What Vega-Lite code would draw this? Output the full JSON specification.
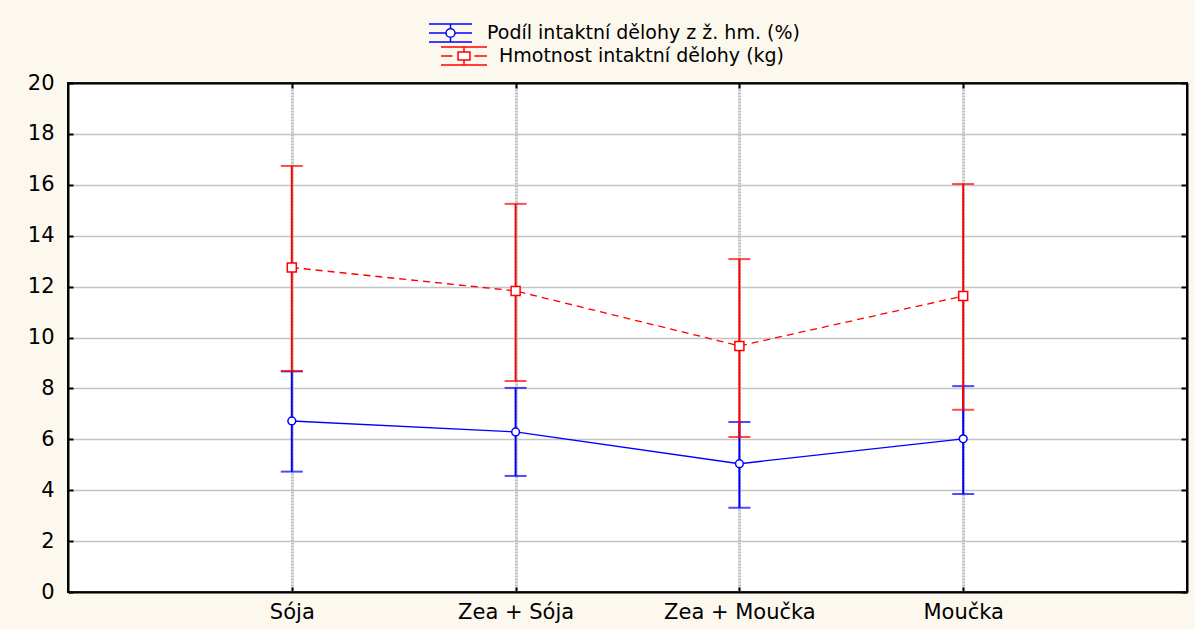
{
  "$schema": "https://vega.github.io/schema/vega-lite/v6.json",
  "autosize": "none",
  "width": 1119,
  "height": 509,
  "padding": {"left": 68, "top": 83, "right": 8, "bottom": 38},
  "background": "#fdf8ee",
  "config": {
    "view": {"stroke": "black", "strokeWidth": 2, "fill": "white"},
    "font": "DejaVu Sans"
  },
  "data": {
    "values": [
      {"group": "Sója", "s": "P", "series": "Podíl intaktní dělohy z ž. hm. (%)", "mean": 6.72, "lo": 4.73, "hi": 8.67},
      {"group": "Zea + Sója", "s": "P", "series": "Podíl intaktní dělohy z ž. hm. (%)", "mean": 6.29, "lo": 4.56, "hi": 8.02},
      {"group": "Zea + Moučka", "s": "P", "series": "Podíl intaktní dělohy z ž. hm. (%)", "mean": 5.04, "lo": 3.31, "hi": 6.68},
      {"group": "Moučka", "s": "P", "series": "Podíl intaktní dělohy z ž. hm. (%)", "mean": 6.02, "lo": 3.85, "hi": 8.09},
      {"group": "Sója", "s": "H", "series": "Hmotnost intaktní dělohy (kg)", "mean": 12.75, "lo": 8.68, "hi": 16.74},
      {"group": "Zea + Sója", "s": "H", "series": "Hmotnost intaktní dělohy (kg)", "mean": 11.83, "lo": 8.29, "hi": 15.25},
      {"group": "Zea + Moučka", "s": "H", "series": "Hmotnost intaktní dělohy (kg)", "mean": 9.67, "lo": 6.09, "hi": 13.08},
      {"group": "Moučka", "s": "H", "series": "Hmotnost intaktní dělohy (kg)", "mean": 11.63, "lo": 7.16, "hi": 16.03}
    ]
  },
  "resolve": {
    "scale": {"stroke": "independent"},
    "axis": {"x": "independent", "y": "independent"},
    "legend": {"stroke": "independent"}
  },
  "layer": [
    {
      "transform": [{"filter": "datum.s == 'P'"}],
      "encoding": {
        "x": {
          "field": "group", "type": "ordinal",
          "sort": ["Sója", "Zea + Sója", "Zea + Moučka", "Moučka"],
          "scale": {"type": "point", "padding": 1},
          "axis": {"orient": "bottom", "title": null, "labelAngle": 0, "grid": true, "gridColor": "#c0c0c0", "gridWidth": 3, "gridDash": [2, 1], "domainColor": "black", "domainWidth": 2, "ticks": true, "tickSize": -5, "tickColor": "black", "tickWidth": 2, "labelFont": "DejaVu Sans", "labelFontSize": 21, "labelColor": "black", "labelPadding": 14}
        }
      },
      "layer": [
        {
          "mark": {"type": "rule", "color": "#0000ff", "strokeWidth": 2},
          "encoding": {
            "y": {"field": "lo", "type": "quantitative", "scale": {"domain": [0, 20], "nice": false, "zero": true},
              "axis": {"orient": "left", "title": null, "values": [0, 2, 4, 6, 8, 10, 12, 14, 16, 18, 20], "grid": true, "gridColor": "#c4c4c4", "gridWidth": 1.5, "domainColor": "black", "domainWidth": 2, "ticks": true, "tickSize": -5, "tickColor": "black", "tickWidth": 2, "labelFont": "DejaVu Sans", "labelFontSize": 21, "labelColor": "black", "labelPadding": 19}},
            "y2": {"field": "hi"}
          }
        },
        {
          "mark": {"type": "tick", "color": "#0000ff", "thickness": 2, "size": 22},
          "encoding": {
            "y": {"field": "lo", "type": "quantitative",
              "axis": {"orient": "left", "title": null, "values": [0, 2, 4, 6, 8, 10, 12, 14, 16, 18, 20], "grid": true, "gridColor": "#c4c4c4", "gridWidth": 1.5, "domainColor": "black", "domainWidth": 2, "ticks": true, "tickSize": -5, "tickColor": "black", "tickWidth": 2, "labelFont": "DejaVu Sans", "labelFontSize": 21, "labelColor": "black", "labelPadding": 19}}
          }
        },
        {
          "mark": {"type": "tick", "color": "#0000ff", "thickness": 2, "size": 22},
          "encoding": {
            "y": {"field": "hi", "type": "quantitative",
              "axis": {"orient": "left", "title": null, "values": [0, 2, 4, 6, 8, 10, 12, 14, 16, 18, 20], "grid": true, "gridColor": "#c4c4c4", "gridWidth": 1.5, "domainColor": "black", "domainWidth": 2, "ticks": true, "tickSize": -5, "tickColor": "black", "tickWidth": 2, "labelFont": "DejaVu Sans", "labelFontSize": 21, "labelColor": "black", "labelPadding": 19}}
          }
        },
        {
          "mark": {"type": "line", "color": "#0000ff", "strokeWidth": 1.3},
          "encoding": {
            "y": {"field": "mean", "type": "quantitative",
              "axis": {"orient": "left", "title": null, "values": [0, 2, 4, 6, 8, 10, 12, 14, 16, 18, 20], "grid": true, "gridColor": "#c4c4c4", "gridWidth": 1.5, "domainColor": "black", "domainWidth": 2, "ticks": true, "tickSize": -5, "tickColor": "black", "tickWidth": 2, "labelFont": "DejaVu Sans", "labelFontSize": 21, "labelColor": "black", "labelPadding": 19}}
          }
        },
        {
          "mark": {"type": "point", "shape": "circle", "filled": true, "fill": "white", "strokeWidth": 1.5, "size": 60, "opacity": 1},
          "encoding": {
            "y": {"field": "mean", "type": "quantitative",
              "axis": {"orient": "left", "title": null, "values": [0, 2, 4, 6, 8, 10, 12, 14, 16, 18, 20], "grid": true, "gridColor": "#c4c4c4", "gridWidth": 1.5, "domainColor": "black", "domainWidth": 2, "ticks": true, "tickSize": -5, "tickColor": "black", "tickWidth": 2, "labelFont": "DejaVu Sans", "labelFontSize": 21, "labelColor": "black", "labelPadding": 19}},
            "stroke": {"field": "series", "type": "nominal", "scale": {"range": ["#0000ff"]},
              "legend": {"orient": "none", "legendX": 360, "legendY": -72.5, "title": null, "padding": 0,
                "symbolType": "M-1,-0.42H1M-1,0.42H1M0,-0.42V-0.2M0,0.2V0.42M-1,0H-0.21M0.21,0H1M-0.21,0A0.21,0.2 0 1,1 0.21,0A0.21,0.2 0 1,1 -0.21,0Z",
                "symbolSize": 1849, "symbolStrokeWidth": 1.5, "symbolFillColor": "white", "symbolStrokeColor": "#0000ff",
                "labelFont": "DejaVu Sans", "labelFontSize": 19, "labelColor": "black", "labelOffset": 14, "labelLimit": 0}}
          }
        }
      ]
    },
    {
      "transform": [{"filter": "datum.s == 'H'"}],
      "encoding": {
        "x": {
          "field": "group", "type": "ordinal",
          "sort": ["Sója", "Zea + Sója", "Zea + Moučka", "Moučka"],
          "scale": {"type": "point", "padding": 1},
          "axis": {"orient": "top", "title": null, "labels": false, "grid": false, "domainColor": "black", "domainWidth": 2, "ticks": true, "tickSize": -5, "tickColor": "black", "tickWidth": 2}
        }
      },
      "layer": [
        {
          "mark": {"type": "rule", "color": "#ff0000", "strokeWidth": 2},
          "encoding": {
            "y": {"field": "lo", "type": "quantitative",
              "axis": {"orient": "right", "title": null, "values": [0, 2, 4, 6, 8, 10, 12, 14, 16, 18, 20], "grid": false, "labels": false, "domainColor": "black", "domainWidth": 2, "ticks": true, "tickSize": -6, "tickColor": "black", "tickWidth": 2}},
            "y2": {"field": "hi"}
          }
        },
        {
          "mark": {"type": "tick", "color": "#ff0000", "thickness": 2, "size": 22},
          "encoding": {
            "y": {"field": "lo", "type": "quantitative",
              "axis": {"orient": "right", "title": null, "values": [0, 2, 4, 6, 8, 10, 12, 14, 16, 18, 20], "grid": false, "labels": false, "domainColor": "black", "domainWidth": 2, "ticks": true, "tickSize": -6, "tickColor": "black", "tickWidth": 2}}
          }
        },
        {
          "mark": {"type": "tick", "color": "#ff0000", "thickness": 2, "size": 22},
          "encoding": {
            "y": {"field": "hi", "type": "quantitative",
              "axis": {"orient": "right", "title": null, "values": [0, 2, 4, 6, 8, 10, 12, 14, 16, 18, 20], "grid": false, "labels": false, "domainColor": "black", "domainWidth": 2, "ticks": true, "tickSize": -6, "tickColor": "black", "tickWidth": 2}}
          }
        },
        {
          "mark": {"type": "line", "color": "#ff0000", "strokeWidth": 1.3, "strokeDash": [7, 5]},
          "encoding": {
            "y": {"field": "mean", "type": "quantitative",
              "axis": {"orient": "right", "title": null, "values": [0, 2, 4, 6, 8, 10, 12, 14, 16, 18, 20], "grid": false, "labels": false, "domainColor": "black", "domainWidth": 2, "ticks": true, "tickSize": -6, "tickColor": "black", "tickWidth": 2}}
          }
        },
        {
          "mark": {"type": "point", "shape": "square", "filled": true, "fill": "white", "strokeWidth": 1.5, "size": 81, "opacity": 1},
          "encoding": {
            "y": {"field": "mean", "type": "quantitative",
              "axis": {"orient": "right", "title": null, "values": [0, 2, 4, 6, 8, 10, 12, 14, 16, 18, 20], "grid": false, "labels": false, "domainColor": "black", "domainWidth": 2, "ticks": true, "tickSize": -6, "tickColor": "black", "tickWidth": 2}},
            "stroke": {"field": "series", "type": "nominal", "scale": {"range": ["#ff0000"]},
              "legend": {"orient": "none", "legendX": 372, "legendY": -51, "title": null, "padding": 0,
                "symbolType": "M-1,-0.39H1M-1,0.39H1M0,-0.39V-0.17M0,0.17V0.39M-1,0H-0.5M0.45,0H1M-0.26,-0.17H0.26V0.17H-0.26Z",
                "symbolSize": 2116, "symbolStrokeWidth": 1.5, "symbolFillColor": "white", "symbolStrokeColor": "#ff0000",
                "labelFont": "DejaVu Sans", "labelFontSize": 19, "labelColor": "black", "labelOffset": 11, "labelLimit": 0}}
          }
        }
      ]
    }
  ]
}
